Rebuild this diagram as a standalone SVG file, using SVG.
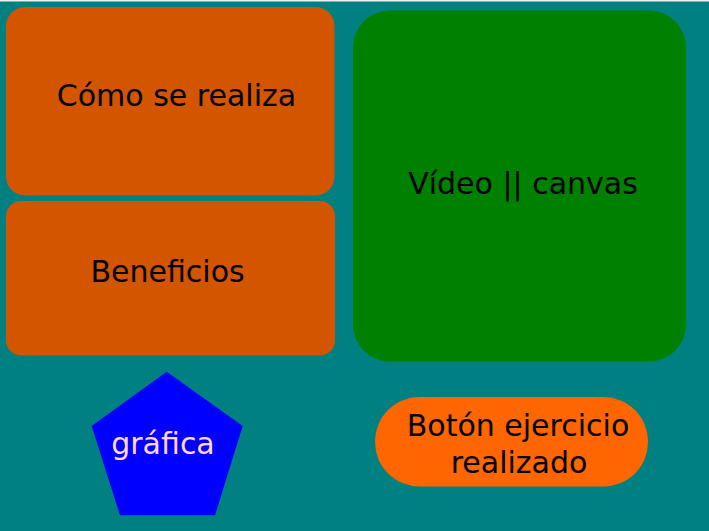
<svg xmlns="http://www.w3.org/2000/svg" width="709" height="531" viewBox="0 0 709 531">
<style>
text{font-family:"DejaVu Sans","Liberation Sans",sans-serif;font-size:30px;text-anchor:middle;fill:#000}
.o{fill:#d45500}
</style>
<rect x="0" y="0" width="709" height="531" fill="#f0f0f0"/>
<rect x="0" y="1.5" width="709" height="529.5" fill="#008080"/>
<g id="como">
<rect class="o" x="6" y="7" width="328.5" height="188.5" rx="19"/>
<text x="176.5" y="105.5">Cómo se realiza</text>
</g>
<g id="beneficios">
<rect class="o" x="6" y="201" width="329" height="154.5" rx="15"/>
<text x="167.5" y="281.5">Beneficios</text>
</g>
<g id="video">
<rect x="353" y="10.5" width="333" height="351" rx="37" fill="#008000"/>
<text x="523" y="194">Vídeo || canvas</text>
</g>
<g id="grafica">
<polygon points="166.7,371.7 242.7,426 215,515.3 120,515.3 91.7,426" fill="#0000ff"/>
<text x="163" y="454" style="fill:#ffd5d5">gráfica</text>
</g>
<g id="boton">
<rect x="375" y="397" width="273" height="89.5" rx="44.5" fill="#ff6600"/>
<text x="518" y="436">Botón ejercicio</text>
<text x="519" y="473">realizado</text>
</g>
<g id="connectors"/>
</svg>
